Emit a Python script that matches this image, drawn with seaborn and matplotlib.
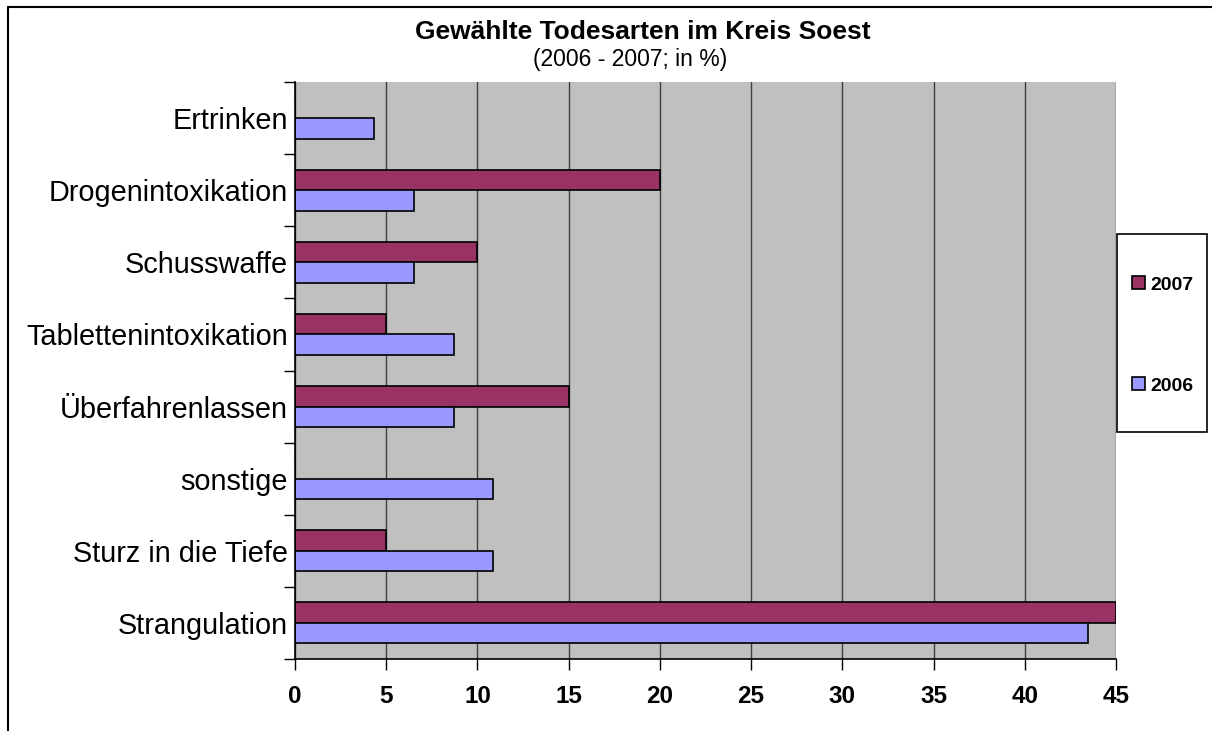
import pandas as pd
import matplotlib
matplotlib.use("Agg")
import matplotlib.pyplot as plt
import seaborn as sns
from matplotlib.lines import Line2D
from matplotlib.patches import Rectangle, Patch
from matplotlib.ticker import FixedLocator

# ==========================================
# Data
# ==========================================
categories = ['Ertrinken', 'Drogenintoxikation', 'Schusswaffe', 'Tablettenintoxikation',
              'Überfahrenlassen', 'sonstige', 'Sturz in die Tiefe', 'Strangulation']
values_2007 = [0, 20, 10, 5, 15, 0, 5, 45]
values_2006 = [4.35, 6.52, 6.52, 8.70, 8.70, 10.87, 10.87, 43.48]
years = ['2007', '2006']
x_ticks = [0, 5, 10, 15, 20, 25, 30, 35, 40, 45]

COLORS = {'2007': '#993366', '2006': '#9999FF'}

df = pd.concat([
    pd.DataFrame({'Todesart': categories, 'Jahr': '2007', 'Anteil': values_2007}),
    pd.DataFrame({'Todesart': categories, 'Jahr': '2006', 'Anteil': values_2006}),
])

sns.set_style("white")
plt.rcParams['font.family'] = ['Liberation Sans', 'DejaVu Sans']
plt.rcParams['text.color'] = 'black'
plt.rcParams['xtick.color'] = 'black'
plt.rcParams['ytick.color'] = 'black'

W, H = 1212, 731
fig = plt.figure(figsize=(W / 100, H / 100), dpi=100)
ax = fig.add_axes([295 / W, 1 - 659 / H, (1116 - 295) / W, (659 - 82) / H])
ax.set_facecolor('#C0C0C0')

sns.barplot(data=df, y='Todesart', x='Anteil', hue='Jahr', hue_order=years,
            order=categories, palette=COLORS, orient='h', width=0.57, saturation=1,
            edgecolor='black', linewidth=1.2, ax=ax, legend=False)

ax.set_xlim(0, 45)
ax.set_ylim(len(categories) - 0.5, -0.5)
ax.set_xticks(x_ticks)
ax.set_xticklabels([str(t) for t in x_ticks], fontsize=17.5, fontweight='bold')
ax.tick_params(axis='x', direction='out', length=8, width=1, color='black', pad=11, bottom=True)

ax.set_yticks(range(len(categories)))
ax.set_yticklabels(categories, fontsize=20.8)
ax.tick_params(axis='y', which='major', length=0, pad=5)
ax.yaxis.set_minor_locator(FixedLocator([i - 0.5 for i in range(len(categories) + 1)]))
ax.tick_params(axis='y', which='minor', direction='out', length=8, width=1, color='black', left=True)

ax.set_xlabel('')
ax.set_ylabel('')

# vertical grid lines
ax.xaxis.grid(True, color='#404040', linewidth=1)
ax.yaxis.grid(False)
ax.set_axisbelow(True)

for side in ['top', 'right']:
    ax.spines[side].set_visible(False)
for side in ['left', 'bottom']:
    ax.spines[side].set_color('black')
    ax.spines[side].set_linewidth(1.2)

# title & subtitle
fig.text(643 / W, 1 - 39 / H, 'Gewählte Todesarten im Kreis Soest', ha='center', va='baseline',
         fontsize=19, fontweight='bold')
fig.text(630 / W, 1 - 66 / H, '(2006 - 2007; in %)', ha='center', va='baseline', fontsize=16.5)

# legend box
fig.add_artist(Rectangle((1117 / W, 1 - 432 / H), (1207 - 1117) / W, (432 - 234) / H,
                         transform=fig.transFigure, facecolor='white', edgecolor='black',
                         linewidth=1.2))
handles = [Patch(facecolor=COLORS[y], edgecolor='black', linewidth=1.2, label=y) for y in years]
leg = fig.legend(handles=handles, loc='center', bbox_to_anchor=(1163 / W, 1 - 335.5 / H),
                 frameon=False, handlelength=0.65, handleheight=0.65, handletextpad=0.3,
                 labelspacing=4.3, prop={'size': 14, 'weight': 'bold'})

# outer chart border (left and top edges visible)
fig.add_artist(Line2D([8 / W, 8 / W], [0, 1 - 7 / H], transform=fig.transFigure,
                      color='black', linewidth=1.5))
fig.add_artist(Line2D([8 / W, 1], [1 - 7 / H, 1 - 7 / H], transform=fig.transFigure,
                      color='black', linewidth=1.5))

fig.savefig('out.png', dpi=100, facecolor='white')
plt.close(fig)
